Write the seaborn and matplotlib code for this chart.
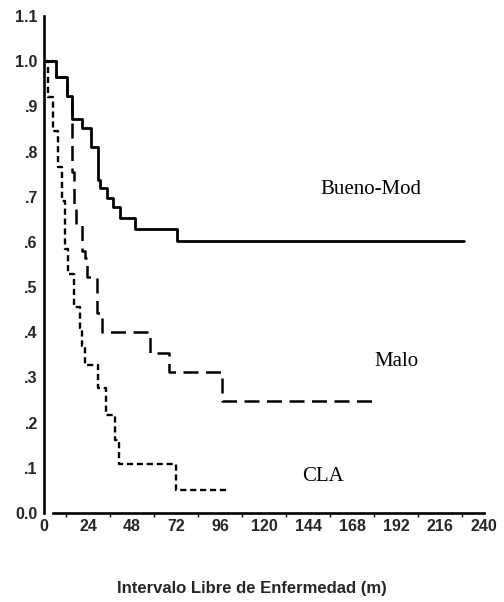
import matplotlib
matplotlib.use("Agg")
import matplotlib.pyplot as plt
from matplotlib.ticker import FixedLocator
import seaborn as sns
import pandas as pd

# Kaplan-Meier style survival steps (months, survival proportion)
bueno_t = [0, 6.5, 12.5, 15, 20.5, 25.5, 29.5, 30.5, 34.5, 37.5, 41.5, 49.5, 72.5, 229]
bueno_s = [1.0, 0.964, 0.922, 0.871, 0.853, 0.809, 0.738, 0.72, 0.698, 0.678, 0.654, 0.629, 0.601, 0.601]

malo_t = [0, 6.5, 12.5, 15.2, 16.3, 17.4, 20.6, 22.3, 23.4, 28.8, 31.5, 58, 68, 97, 181]
malo_s = [1.0, 0.964, 0.922, 0.755, 0.68, 0.64, 0.58, 0.565, 0.523, 0.443, 0.40, 0.355, 0.313, 0.248, 0.248]

cla_t = [0, 2, 5, 7.5, 10, 11.5, 13, 16.5, 19.5, 20.5, 22.5, 29.3, 34, 38.5, 41, 72, 101]
cla_s = [1.0, 0.92, 0.845, 0.765, 0.69, 0.585, 0.53, 0.455, 0.41, 0.37, 0.328, 0.277, 0.217, 0.162, 0.108, 0.051, 0.051]

group_names = ["Bueno-Mod", "Malo", "CLA"]
label_pos = [(178, 0.716), (192, 0.335), (152, 0.08)]

x_ticks = [0, 24, 48, 72, 96, 120, 144, 168, 192, 216, 240]
y_ticks = [0.0, 0.1, 0.2, 0.3, 0.4, 0.5, 0.6, 0.7, 0.8, 0.9, 1.0, 1.1]
y_tick_labels = ["0.0", ".1", ".2", ".3", ".4", ".5", ".6", ".7", ".8", ".9", "1.0", "1.1"]
x_label = "Intervalo Libre de Enfermedad (m)"

sns.set_theme(style="white")
plt.rcParams["font.family"] = ["Liberation Sans", "DejaVu Sans"]

fig = plt.figure(figsize=(5.04, 6.02), dpi=100)
ax = fig.add_axes([44 / 504, 1 - 513 / 602, 442 / 504, (513 - 16) / 602])

series = [
    (bueno_t, bueno_s, "-", 2.0),
    (malo_t, malo_s, (0, (6, 3)), 1.8),
    (cla_t, cla_s, (0, (2.6, 1.6)), 1.7),
]
for name, (t, s, ls, lw) in zip(group_names, series):
    df = pd.DataFrame({"t": t, "s": s})
    sns.lineplot(data=df, x="t", y="s", ax=ax, color="black", linestyle=ls,
                 linewidth=lw, drawstyle="steps-post", estimator=None,
                 sort=False, legend=False)

for name, (lx, ly) in zip(group_names, label_pos):
    ax.text(lx, ly, name, ha="center", va="center", fontsize=15,
            family=["Liberation Serif", "DejaVu Serif"], color="black")

ax.set_xlim(0, 241)
ax.set_ylim(0, 1.1)
ax.set_xticks(x_ticks)
ax.set_xticklabels([str(v) for v in x_ticks])
ax.xaxis.set_minor_locator(FixedLocator([v + 12 for v in x_ticks[:-1]]))
ax.set_yticks(y_ticks)
ax.set_yticklabels(y_tick_labels)

for side in ["top", "right"]:
    ax.spines[side].set_visible(False)
for side in ["left", "bottom"]:
    ax.spines[side].set_color("black")
    ax.spines[side].set_linewidth(1.9)
ax.spines["bottom"].set_bounds(5, 240)

ax.tick_params(axis="both", which="major", direction="out", length=3, width=3.5,
               color="black", labelsize=11.5, pad=1.5)
ax.tick_params(axis="x", which="minor", direction="out", length=3, width=1,
               color="black", bottom=True)
for lab in ax.get_xticklabels() + ax.get_yticklabels():
    lab.set_fontweight("bold")

ax.set_xlabel("")
ax.set_ylabel("")
fig.text(252 / 504, 1 - 588 / 602, x_label, ha="center", va="center",
         fontsize=12, fontweight="bold")

ax.grid(False)
fig.savefig("out.png", dpi=100, facecolor="white")
